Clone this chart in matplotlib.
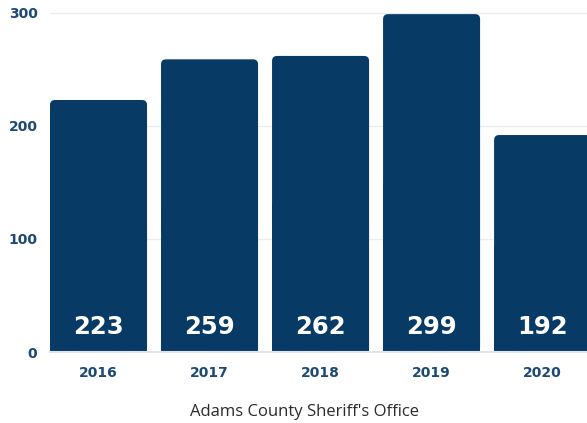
import matplotlib
matplotlib.use("Agg")
import matplotlib.pyplot as plt
from matplotlib.patches import FancyBboxPatch, Rectangle

years = ["2016", "2017", "2018", "2019", "2020"]
values = [223, 259, 262, 299, 192]
yticks = [0, 100, 200, 300]
caption = "Adams County Sheriff's Office"

bar_color = "#073b66"
tick_color = "#1c4a75"

fig = plt.figure(figsize=(5.87, 4.23), dpi=100)
ax = fig.add_axes([50/587, 71/423, (587-50)/587, (423-71)/423])
ax.set_xlim(-0.437, 4.40)
ax.set_ylim(0, 311.5)

x = list(range(len(years)))
width = 0.874
bars = ax.bar(x, values, width=width, color=bar_color, zorder=2)
px_per_x = 111.0
px_per_y = 339.0 / 300.0
aspect = px_per_x / px_per_y
r = 0.045
for b in bars:
    b.set_visible(False)
    bx, bw, bh = b.get_x(), b.get_width(), b.get_height()
    ax.add_patch(FancyBboxPatch((bx, 0), bw, bh,
                                boxstyle=f"round,pad=0,rounding_size={r}",
                                mutation_aspect=aspect, fc=bar_color, ec="none",
                                zorder=2))
    ax.add_patch(Rectangle((bx, 0), bw, bh * 0.5, fc=bar_color, ec="none", zorder=2))

for xi, v in zip(x, values):
    ax.text(xi, 22, str(v), ha="center", va="center", color="white",
            fontsize=17.5, fontweight="bold", family="DejaVu Sans", zorder=3)

ax.set_yticks(yticks)
ax.set_xticks(x)
ax.set_xticklabels(years)
ax.grid(axis="y", color="#e9edf1", linewidth=1, zorder=0)
ax.set_axisbelow(True)
for s in ["top", "right", "left"]:
    ax.spines[s].set_visible(False)
ax.spines["bottom"].set_color("#dde6ee")
ax.spines["bottom"].set_linewidth(1.5)
ax.spines["bottom"].set_zorder(3)
ax.tick_params(axis="both", length=0, colors=tick_color)
ax.tick_params(axis="y", pad=9)
ax.tick_params(axis="x", pad=10)
for lab in ax.get_yticklabels() + ax.get_xticklabels():
    lab.set_fontfamily("DejaVu Sans")
    lab.set_fontweight("bold")
    lab.set_fontsize(10)

fig.text(305/587, 1 - 412/423, caption, ha="center", va="center",
         fontsize=12, color="#2b2b2b", family="Open Sans")

fig.savefig("out.png", dpi=100)
